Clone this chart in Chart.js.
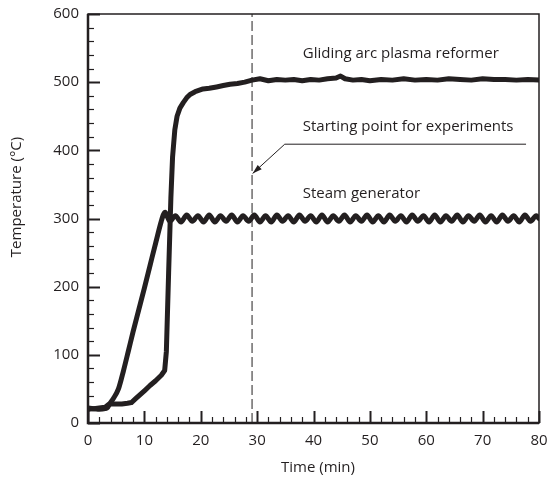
<!DOCTYPE html>
<html>
<head>
<meta charset="utf-8">
<script src="https://cdn.jsdelivr.net/npm/chart.js@4.4.0/dist/chart.umd.min.js"></script>
<style>
  body { margin: 0; background: #fff; }
</style>
</head>
<body>
<canvas id="myChart" width="550" height="485"></canvas>
<script>
// datos (tiempo en min, temperatura en °C)
var reformerTime = [0, 1, 2, 3, 3.6, 4, 5, 6, 7, 7.7, 8.5, 9.3, 10.1, 11, 12, 13, 13.6, 13.9, 14.3, 14.7,
  15.0, 15.4, 15.8, 16.3, 16.9, 17.5, 18.1, 19, 20.4, 21.5, 22.8, 24, 25.2, 26.5, 27.8, 29.1, 30.5, 32, 33.5, 35,
  36.5, 38, 39.5, 41, 42.5, 44, 44.8, 45.6, 47, 48.5, 50, 52, 54, 56, 58, 60, 62, 64, 66, 68,
  70, 72, 74, 76, 78, 80];
var reformerTemp = [22, 21, 22, 23, 27, 28, 28, 28, 29, 30, 36, 42, 48, 55, 62, 70, 77, 105, 220, 330,
  390, 430, 450, 462, 470, 477, 482, 486, 490, 491, 493, 495, 497, 498, 500, 503, 505, 502, 504, 503,
  504, 502, 504, 503, 505, 506, 509, 505, 503, 504, 502, 504, 503, 505, 503, 504, 503, 505, 504, 503,
  505, 504, 504, 503, 504, 503];

var steamTime = [0, 1, 2, 3, 3.5, 3.9, 4.5, 5.4, 6.3, 7.2, 8, 9, 10, 11, 12, 13, 13.4, 13.7, 14, 14.5,
  15.5, 16.5, 17.5, 18.5, 19.5, 20.5, 21.5, 22.5, 23.5, 24.5,
  25.5, 26.5, 27.5, 28.5, 29.5, 30.5, 31.5, 32.5, 33.5, 34.5,
  35.5, 36.5, 37.5, 38.5, 39.5, 40.5, 41.5, 42.5, 43.5, 44.5,
  45.5, 46.5, 47.5, 48.5, 49.5, 50.5, 51.5, 52.5, 53.5, 54.5,
  55.5, 56.5, 57.5, 58.5, 59.5, 60.5, 61.5, 62.5, 63.5, 64.5,
  65.5, 66.5, 67.5, 68.5, 69.5, 70.5, 71.5, 72.5, 73.5, 74.5,
  75.5, 76.5, 77.5, 78.5, 79.5, 80];
var steamTemp = [20, 21, 20, 21, 23, 29, 36, 50, 77, 107, 134, 166, 198, 231, 264, 296, 306, 309, 304, 296,
  304, 295, 305, 296, 304, 295, 305, 295, 304, 296,
  305, 295, 304, 296, 305, 295, 304, 295, 305, 296,
  304, 295, 305, 296, 304, 295, 305, 295, 304, 296,
  305, 295, 304, 296, 305, 295, 304, 295, 305, 296,
  304, 295, 305, 296, 304, 295, 305, 295, 304, 296,
  305, 295, 304, 296, 305, 295, 304, 295, 305, 296,
  304, 295, 305, 296, 304, 300];

// linea vertical punteada (inicio de experimentos)
var startTime = 29.1;

// ejes
var xMin = 0, xMax = 80, xStep = 10, xMinor = 2;
var yMin = 0, yMax = 600, yStep = 100, yMinor = 20;

// textos dentro del grafico (en unidades de datos)
var notes = [
  { text: 'Gliding arc plasma reformer', x: 38.1, y: 542 },
  { text: 'Starting point for experiments', x: 38.1, y: 434 },
  { text: 'Steam generator', x: 38.1, y: 337 }
];
// flecha: linea horizontal y punta
var arrowPath = [[77.7, 409], [34.9, 409], [29.2, 366]];

var ink = '#231f20';
var fontFam = '"Open Sans", sans-serif';

function toXY(xs, ys) {
  return xs.map(function (v, i) { return { x: v, y: ys[i] }; });
}

// plugin para el marco, ticks hacia adentro, textos y flecha
var framePlugin = {
  id: 'frame',
  afterDatasetsDraw: function (chart) {
    var ctx = chart.ctx;
    var a = chart.chartArea;
    var sx = chart.scales.x, sy = chart.scales.y;
    ctx.save();
    ctx.strokeStyle = ink;
    ctx.fillStyle = ink;

    // marco
    ctx.lineWidth = 1.5;
    ctx.strokeRect(a.left, a.top, a.right - a.left, a.bottom - a.top);
    ctx.lineWidth = 2.5;
    ctx.beginPath();
    ctx.moveTo(a.left, a.top);
    ctx.lineTo(a.left, a.bottom);
    ctx.lineTo(a.right, a.bottom);
    ctx.stroke();

    // ticks eje x
    for (var v = xMin; v <= xMax; v += xMinor) {
      var px = Math.round(sx.getPixelForValue(v)) + 0.5;
      var len = (v % xStep === 0) ? 12 : 6;
      ctx.lineWidth = (v % xStep === 0) ? 2 : 1.2;
      ctx.beginPath();
      ctx.moveTo(px, a.bottom);
      ctx.lineTo(px, a.bottom - len);
      ctx.stroke();
    }
    // ticks eje y
    for (var w = yMin; w <= yMax; w += yMinor) {
      var py = Math.round(sy.getPixelForValue(w)) + 0.5;
      var len2 = (w % yStep === 0) ? 12 : 6;
      ctx.lineWidth = (w % yStep === 0) ? 2 : 1.2;
      ctx.beginPath();
      ctx.moveTo(a.left, py);
      ctx.lineTo(a.left + len2, py);
      ctx.stroke();
    }

    // textos
    ctx.font = '15px ' + fontFam;
    ctx.textAlign = 'left';
    ctx.textBaseline = 'middle';
    notes.forEach(function (n) {
      ctx.fillText(n.text, sx.getPixelForValue(n.x), sy.getPixelForValue(n.y));
    });

    // flecha
    var pts = arrowPath.map(function (p) { return [sx.getPixelForValue(p[0]), sy.getPixelForValue(p[1])]; });
    ctx.lineWidth = 1;
    ctx.beginPath();
    ctx.moveTo(pts[0][0], pts[0][1]);
    for (var i = 1; i < pts.length; i++) ctx.lineTo(pts[i][0], pts[i][1]);
    ctx.stroke();
    var tip = pts[pts.length - 1], prev = pts[pts.length - 2];
    var ang = Math.atan2(tip[1] - prev[1], tip[0] - prev[0]);
    ctx.beginPath();
    ctx.moveTo(tip[0], tip[1]);
    ctx.lineTo(tip[0] - 10 * Math.cos(ang - 0.3), tip[1] - 10 * Math.sin(ang - 0.3));
    ctx.lineTo(tip[0] - 10 * Math.cos(ang + 0.3), tip[1] - 10 * Math.sin(ang + 0.3));
    ctx.closePath();
    ctx.fill();

    // titulos de ejes
    ctx.textAlign = 'center';
    ctx.fillText('Time (min)', 318, 468);
    ctx.translate(17, 197);
    ctx.rotate(-Math.PI / 2);
    ctx.fillText('Temperature (°C)', 0, 0);
    ctx.restore();
  }
};

// quitar el padding extra que Chart.js agrega por las etiquetas
function fixPadding(s) {
  s.paddingTop = 0; s.paddingBottom = 0; s.paddingLeft = 0; s.paddingRight = 0;
}

var ctx = document.getElementById('myChart');

var myChart = new Chart(ctx, {
  type: 'line',
  data: {
    datasets: [{
      label: 'Gliding arc plasma reformer',
      data: toXY(reformerTime, reformerTemp),
      borderColor: ink,
      borderWidth: 5,
      pointRadius: 0,
      tension: 0,
      borderJoinStyle: 'round',
      borderCapStyle: 'round'
    }, {
      label: 'Steam generator',
      data: toXY(steamTime, steamTemp),
      borderColor: ink,
      borderWidth: 5,
      pointRadius: 0,
      cubicInterpolationMode: 'monotone',
      borderJoinStyle: 'round',
      borderCapStyle: 'round'
    }, {
      label: 'Starting point',
      data: [{ x: startTime, y: yMin }, { x: startTime, y: yMax }],
      borderColor: ink,
      borderWidth: 1,
      borderDash: [10, 4],
      pointRadius: 0
    }]
  },
  options: {
    responsive: false,
    animation: false,
    layout: { padding: { top: 14, right: 11, left: 0, bottom: 0 } },
    plugins: { legend: { display: false }, tooltip: { enabled: false } },
    scales: {
      x: {
        type: 'linear',
        min: xMin, max: xMax,
        grid: { display: false, drawTicks: false },
        border: { display: false },
        ticks: { stepSize: xStep, padding: 9, color: ink, font: { family: fontFam, size: 15 }, maxRotation: 0 },
        afterFit: function (s) { s.height = 62; fixPadding(s); }
      },
      y: {
        min: yMin, max: yMax,
        grid: { display: false, drawTicks: false },
        border: { display: false },
        ticks: { stepSize: yStep, padding: 9, color: ink, font: { family: fontFam, size: 15 } },
        afterFit: function (s) { s.width = 88; fixPadding(s); }
      }
    }
  },
  plugins: [framePlugin]
});
</script>
</body>
</html>
